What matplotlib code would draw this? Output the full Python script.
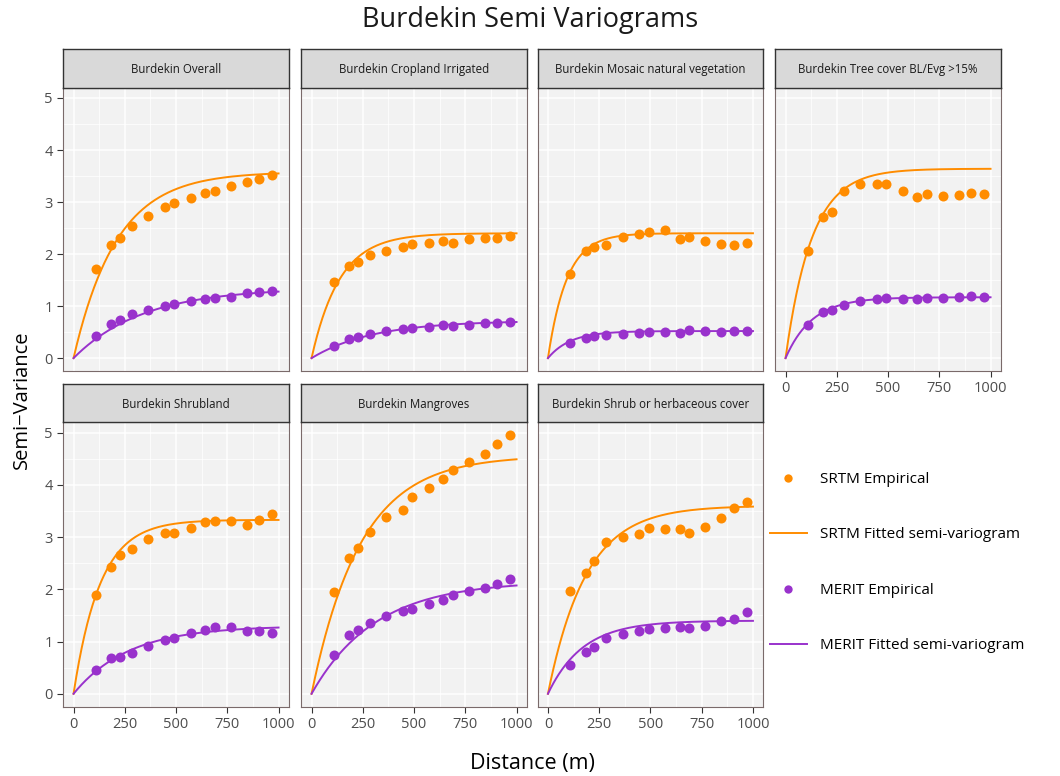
import numpy as np
import matplotlib
matplotlib.use("Agg")
import matplotlib.pyplot as plt
from matplotlib.lines import Line2D

plt.rcParams['font.family'] = ['Open Sans', 'DejaVu Sans']

srtm_col = '#FF8C00'
merit_col = '#9932CC'

panels = ['Burdekin Overall', 'Burdekin Cropland Irrigated',
          'Burdekin Mosaic natural vegetation', 'Burdekin Tree cover BL/Evg >15%',
          'Burdekin Shrubland', 'Burdekin Mangroves',
          'Burdekin Shrub or herbaceous cover']

# lag distances (m) of the empirical variogram
dist = [108, 184, 225, 285, 364, 444, 491, 571, 643, 690, 767, 845, 907, 969]

srtm_overall = [1.71, 2.17, 2.31, 2.54, 2.73, 2.90, 2.99, 3.08, 3.18, 3.22, 3.30, 3.39, 3.44, 3.52]
merit_overall = [0.43, 0.66, 0.73, 0.84, 0.93, 1.00, 1.04, 1.09, 1.13, 1.15, 1.18, 1.25, 1.27, 1.29]
srtm_crop = [1.47, 1.78, 1.84, 1.99, 2.06, 2.14, 2.19, 2.22, 2.26, 2.22, 2.28, 2.31, 2.31, 2.35]
merit_crop = [0.24, 0.37, 0.40, 0.47, 0.52, 0.56, 0.58, 0.60, 0.63, 0.62, 0.64, 0.67, 0.68, 0.69]
srtm_mosaic = [1.62, 2.05, 2.14, 2.17, 2.32, 2.38, 2.42, 2.46, 2.29, 2.33, 2.25, 2.19, 2.18, 2.21]
merit_mosaic = [0.30, 0.38, 0.43, 0.45, 0.47, 0.49, 0.50, 0.51, 0.49, 0.54, 0.52, 0.50, 0.52, 0.52]
srtm_tree = [2.06, 2.72, 2.81, 3.22, 3.34, 3.34, 3.34, 3.21, 3.09, 3.16, 3.12, 3.14, 3.18, 3.15]
merit_tree = [0.64, 0.88, 0.92, 1.02, 1.09, 1.14, 1.15, 1.14, 1.13, 1.15, 1.16, 1.18, 1.20, 1.17]
srtm_shrubland = [1.89, 2.42, 2.65, 2.77, 2.97, 3.07, 3.08, 3.17, 3.29, 3.31, 3.31, 3.23, 3.32, 3.44]
merit_shrubland = [0.45, 0.68, 0.70, 0.79, 0.91, 1.03, 1.06, 1.17, 1.23, 1.27, 1.28, 1.21, 1.21, 1.17]
srtm_mangrove = [1.94, 2.59, 2.79, 3.10, 3.39, 3.52, 3.76, 3.94, 4.11, 4.29, 4.44, 4.60, 4.78, 4.95]
merit_mangrove = [0.75, 1.12, 1.22, 1.36, 1.49, 1.58, 1.62, 1.71, 1.79, 1.89, 1.96, 2.02, 2.10, 2.19]
srtm_herb = [1.96, 2.32, 2.55, 2.91, 3.00, 3.05, 3.17, 3.15, 3.15, 3.07, 3.19, 3.37, 3.55, 3.67]
merit_herb = [0.55, 0.80, 0.89, 1.07, 1.15, 1.20, 1.24, 1.26, 1.27, 1.26, 1.30, 1.39, 1.44, 1.56]

srtm_emp = [srtm_overall, srtm_crop, srtm_mosaic, srtm_tree, srtm_shrubland, srtm_mangrove, srtm_herb]
merit_emp = [merit_overall, merit_crop, merit_mosaic, merit_tree, merit_shrubland, merit_mangrove, merit_herb]

# fitted exponential models: partial sill and range (m)
srtm_sill = [3.58, 2.40, 2.40, 3.64, 3.33, 4.56, 3.60]
srtm_range = [210, 137, 92, 128, 130, 240, 186]
merit_sill = [1.35, 0.72, 0.52, 1.17, 1.30, 2.16, 1.40]
merit_range = [340, 300, 110, 130, 270, 311, 170]


def exp_model(h, sill, rng):
    return sill * (1 - np.exp(-h / rng))


W, H = 1060, 776
fig = plt.figure(figsize=(W / 100, H / 100), dpi=100)

col_left = [63.3, 301.3, 537.7, 775.3]
pw = 225.5
rows = [(87.7, 371.0, 49.0), (422.3, 706.7, 384.3)]  # plot top, plot bottom, strip top

h = np.linspace(0, 1000, 300)

for i, name in enumerate(panels):
    r, c = divmod(i, 4)
    top, bot, stop = rows[r]
    ax = fig.add_axes([col_left[c] / W, 1 - bot / H, pw / W, (bot - top) / H])
    sax = fig.add_axes([col_left[c] / W, 1 - top / H, pw / W, (top - stop) / H])

    ax.set_facecolor('#F2F2F2')
    ax.set_xlim(-50, 1050)
    ax.set_ylim(-0.2475, 5.1975)
    ax.set_xticks([0, 250, 500, 750, 1000])
    ax.set_xticks([125, 375, 625, 875], minor=True)
    ax.set_yticks([0, 1, 2, 3, 4, 5])
    ax.set_yticks([0.5, 1.5, 2.5, 3.5, 4.5], minor=True)
    ax.grid(which='major', color='white', lw=1.1)
    ax.grid(which='minor', color='white', lw=0.55)
    ax.set_axisbelow(True)
    for sp in ax.spines.values():
        sp.set_color('#7A6A6A')
        sp.set_linewidth(0.8)
    ax.tick_params(which='minor', length=0)
    ax.tick_params(which='major', colors='#333333', labelcolor='#4D4D4D',
                   labelsize=10.5, length=4, width=0.8)

    show_x = r == 1 or c == 3
    show_y = c == 0
    ax.tick_params(axis='x', bottom=show_x, labelbottom=show_x)
    ax.tick_params(axis='y', left=show_y, labelleft=show_y)

    ax.plot(h, exp_model(h, srtm_sill[i], srtm_range[i]), color=srtm_col, lw=1.4, zorder=3)
    ax.plot(h, exp_model(h, merit_sill[i], merit_range[i]), color=merit_col, lw=1.4, zorder=3)
    ax.plot(dist, srtm_emp[i], 'o', color=srtm_col, ms=7.2, mec='none', zorder=4)
    ax.plot(dist, merit_emp[i], 'o', color=merit_col, ms=7.2, mec='none', zorder=4)

    sax.set_facecolor('#D9D9D9')
    sax.set_xticks([])
    sax.set_yticks([])
    for sp in sax.spines.values():
        sp.set_color('#333333')
        sp.set_linewidth(1.0)
    sax.text(0.5, 0.47, name, ha='center', va='center', fontsize=8.3,
             color='#1A1A1A', transform=sax.transAxes)

fig.text(530 / W, 1 - 20 / H, 'Burdekin Semi Variograms', ha='center', va='center',
         fontsize=19.5, color='#1A1A1A')
fig.text(532 / W, 1 - 763 / H, 'Distance (m)', ha='center', va='center', fontsize=15.5)
fig.text(22 / W, 1 - 400 / H, 'Semi\u2212Variance', ha='center', va='center',
         rotation=90, fontsize=14.5)

handles = [
    Line2D([], [], ls='none', marker='o', color=srtm_col, ms=6, mec='none'),
    Line2D([], [], color=srtm_col, lw=1.4),
    Line2D([], [], ls='none', marker='o', color=merit_col, ms=6, mec='none'),
    Line2D([], [], color=merit_col, lw=1.4),
]
labels = ['SRTM Empirical', 'SRTM Fitted semi-variogram',
          'MERIT Empirical', 'MERIT Fitted semi-variogram']
fig.legend(handles, labels, loc='upper left', bbox_to_anchor=(770 / W, 1 - 472 / H),
           frameon=False, fontsize=11, labelspacing=2.65, handlelength=2.4,
           handletextpad=0.9, borderpad=0, borderaxespad=0)

fig.savefig('out.png', dpi=100)
